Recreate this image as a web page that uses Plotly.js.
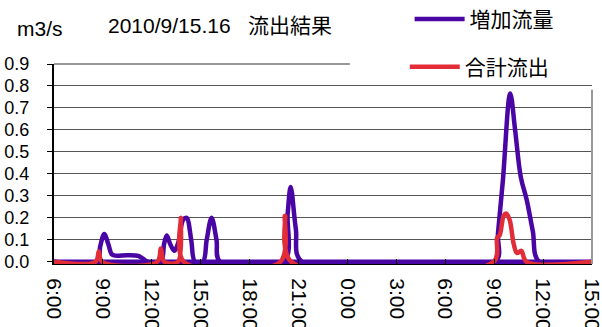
<!DOCTYPE html>
<html>
<head>
<meta charset="utf-8">
<script src="https://cdn.plot.ly/plotly-3.0.1.min.js"></script>
<style>html,body{margin:0;padding:0;background:#fff;}#chart{width:602px;height:327px;}</style>
</head>
<body>
<div id="chart"></div>
<script>
// ---- data ----
const titleText = '2010/9/15.16\u00a0\u00a0\u00a0流出結果';
const unitText = 'm3/s';
const seriesNames = ['増加流量', '合計流出'];

const tickTimes = [
  '2010-09-15 06:00','2010-09-15 09:00','2010-09-15 12:00','2010-09-15 15:00',
  '2010-09-15 18:00','2010-09-15 21:00','2010-09-16 00:00','2010-09-16 03:00',
  '2010-09-16 06:00','2010-09-16 09:00','2010-09-16 12:00','2010-09-16 15:00'
];
const tickLabels = ['6:00','9:00','12:00','15:00','18:00','21:00','0:00','3:00','6:00','9:00','12:00','15:00'];

const purpleTimes = [
  '2010-09-15 06:00','2010-09-15 08:40','2010-09-15 08:50','2010-09-15 09:05','2010-09-15 09:20',
  '2010-09-15 09:32','2010-09-15 09:45','2010-09-15 10:30','2010-09-15 11:10','2010-09-15 11:30',
  '2010-09-15 11:46','2010-09-15 12:33','2010-09-15 12:45','2010-09-15 12:55','2010-09-15 13:08',
  '2010-09-15 13:23','2010-09-15 13:38','2010-09-15 13:55','2010-09-15 14:08','2010-09-15 14:25',
  '2010-09-15 14:39','2010-09-15 15:08','2010-09-15 15:22','2010-09-15 15:40','2010-09-15 15:58',
  '2010-09-15 16:11','2010-09-15 20:06','2010-09-15 20:20','2010-09-15 20:31','2010-09-15 20:50',
  '2010-09-15 21:12','2010-09-16 09:04','2010-09-16 09:14','2010-09-16 09:32','2010-09-16 09:59',
  '2010-09-16 10:17','2010-09-16 10:38','2010-09-16 11:00','2010-09-16 11:22','2010-09-16 11:46',
  '2010-09-16 15:00'
];
const purpleValues = [
  0, 0, 0.07, 0.126, 0.08,
  0.035, 0.028, 0.03, 0.027, 0.012,
  0, 0, 0.08, 0.12, 0.08,
  0.05, 0.09, 0.19, 0.2, 0.1,
  0, 0, 0.1, 0.2, 0.1,
  0, 0, 0.22, 0.34, 0.15,
  0, 0, 0.13, 0.37, 0.766,
  0.6, 0.385, 0.28, 0.14, 0,
  0
];

const baseTimes = ['2010-09-15 06:00', '2010-09-16 15:00'];
const baseValues = [0, 0];

const redTimes = [
  '2010-09-15 06:00','2010-09-15 08:33','2010-09-15 08:45','2010-09-15 08:57',
  '2010-09-15 12:20','2010-09-15 12:33','2010-09-15 12:46',
  '2010-09-15 13:36','2010-09-15 13:47','2010-09-15 13:58',
  '2010-09-15 19:53','2010-09-15 20:10','2010-09-15 20:33',
  '2010-09-16 08:58','2010-09-16 09:11','2010-09-16 09:20','2010-09-16 09:35','2010-09-16 09:44',
  '2010-09-16 09:57','2010-09-16 10:12','2010-09-16 10:24','2010-09-16 10:40','2010-09-16 10:59',
  '2010-09-16 15:00'
];
const redValues = [
  0, 0, 0.047, 0,
  0, 0.06, 0,
  0, 0.2, 0,
  0, 0.21, 0,
  0, 0.11, 0.12, 0.21, 0.22,
  0.19, 0.08, 0.04, 0.05, 0,
  0
];

const xRange = ['2010-09-15 06:00', '2010-09-16 15:00'];
const yRange = [-0.01, 0.9];

// ---- chart ----
const PURPLE = '#4a05a5';
const RED = '#e22d38';
const FONT = '"Liberation Sans", Arial, "Noto Sans CJK JP", sans-serif';

const traces = [
  {x: purpleTimes, y: purpleValues, type: 'scatter', mode: 'lines', name: seriesNames[0],
   line: {color: PURPLE, width: 4.5, shape: 'spline', smoothing: 1}, legend: 'legend'},
  {x: baseTimes, y: baseValues, type: 'scatter', mode: 'lines', showlegend: false,
   line: {color: PURPLE, width: 4.5}, hoverinfo: 'skip'},
  {x: redTimes, y: redValues, type: 'scatter', mode: 'lines', name: seriesNames[1],
   line: {color: RED, width: 4.5, shape: 'spline', smoothing: 1}, legend: 'legend2'}
];

const legendCut = 0.55;   // fraction of plot width where the legend box begins
const legendBottom = 0.871;

const layout = {
  width: 602, height: 327,
  margin: {l: 54, r: 10, t: 64, b: 63, autoexpand: false},
  paper_bgcolor: '#fff', plot_bgcolor: '#fff',
  font: {family: FONT, color: '#000'},
  showlegend: true,
  title: {text: titleText, x: 108/602, xanchor: 'left', xref: 'container',
          y: 1 - 26/327, yanchor: 'middle', yref: 'container',
          font: {size: 21, family: FONT, color: '#000'}},
  xaxis: {
    type: 'date', range: xRange, tickmode: 'array', tickvals: tickTimes, ticktext: tickLabels,
    tickangle: 90, ticks: 'inside', ticklen: 5, tickcolor: '#000', ticklabeloverflow: 'allow',
    showline: true, linecolor: '#000', linewidth: 1, showgrid: false, zeroline: false,
    tickfont: {size: 21, family: FONT, color: '#000'}, ticklabelstandoff: 9
  },
  yaxis: {
    range: yRange, tick0: 0, dtick: 0.1, tickformat: '.1f',
    showgrid: true, gridcolor: '#555', gridwidth: 1, zeroline: false,
    showline: true, linecolor: '#000', linewidth: 2,
    ticks: 'outside', ticklen: 5, tickcolor: '#000',
    tickfont: {size: 18, family: FONT, color: '#000'}, ticklabelstandoff: 14
  },
  legend: {x: 0.661, y: 1.223, xanchor: 'left', yanchor: 'middle', bgcolor: 'rgba(0,0,0,0)',
           font: {size: 21, family: FONT, color: '#000'}, itemwidth: 50},
  legend2: {x: 0.652, y: 0.985, xanchor: 'left', yanchor: 'middle', bgcolor: 'rgba(0,0,0,0)',
            font: {size: 21, family: FONT, color: '#000'}, itemwidth: 50},
  annotations: [
    {text: unitText, xref: 'paper', yref: 'paper', x: -0.0725, y: 1.175,
     xanchor: 'left', yanchor: 'middle', showarrow: false,
     font: {size: 21, family: FONT, color: '#000'}}
  ],
  shapes: [
    {type: 'rect', xref: 'paper', yref: 'paper', x0: legendCut, x1: 1.03, y0: legendBottom, y1: 1.1,
     fillcolor: '#fff', line: {width: 0}, layer: 'between'},
    {type: 'line', xref: 'paper', yref: 'paper', x0: 0, x1: legendCut, y0: 1, y1: 1,
     line: {color: '#999', width: 2}, layer: 'above'},
    {type: 'line', xref: 'paper', yref: 'paper', x0: 1, x1: 1, y0: 0, y1: legendBottom,
     line: {color: '#999', width: 2}, layer: 'above'}
  ]
};

Plotly.newPlot('chart', traces, layout, {displayModeBar: false, staticPlot: true});
</script>
</body>
</html>
